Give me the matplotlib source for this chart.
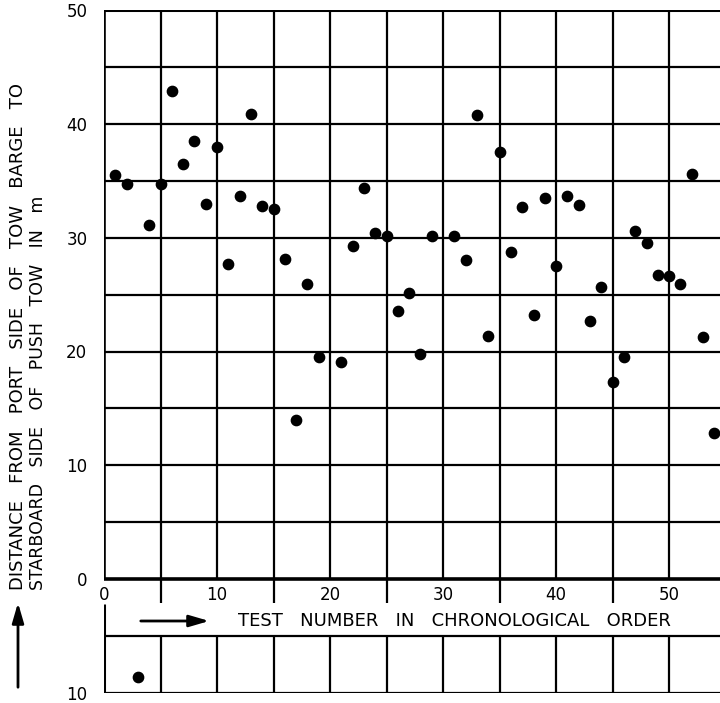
import matplotlib
matplotlib.use("Agg")
import matplotlib.pyplot as plt

# test number and lateral distance (m); test 3 lies on the other side
test_no = [1, 2, 3, 4, 5, 6, 7, 8, 9, 10, 11, 12, 13, 14, 15, 16, 17, 18, 19,
           21, 22, 23, 24, 25, 26, 27, 28, 29, 31, 32, 33, 34, 35, 36, 37, 38,
           39, 40, 41, 42, 43, 44, 45, 46, 47, 48, 49, 50, 51, 52, 53, 54]
distance = [35.5, 34.7, -8.6, 31.1, 34.7, 42.9, 36.5, 38.5, 33.0, 38.0, 27.7,
            33.7, 40.9, 32.8, 32.5, 28.1, 14.0, 25.9, 19.5,
            19.1, 29.3, 34.4, 30.4, 30.15, 23.6, 25.1, 19.8, 30.15, 30.15,
            28.0, 40.8, 21.4, 37.5, 28.7, 32.7, 23.2, 33.5, 27.5, 33.65, 32.9,
            22.65, 25.7, 17.3, 19.5, 30.6, 29.5, 26.7, 26.6, 25.9, 35.6, 21.3,
            12.8]

x_labels = [0, 10, 20, 30, 40, 50]
y_ticks = [-10, 0, 10, 20, 30, 40, 50]
y_labels = ['10', '0', '10', '20', '30', '40', '50']

W, H = 720, 703
fig = plt.figure(figsize=(W / 100, H / 100), dpi=100)
ax = fig.add_axes([104 / W, 10 / H, 1 - 104 / W, (693 - 10) / H])
ax.set_xlim(0, 54.5)
ax.set_ylim(-10, 50)

lw = 1.6
# horizontal grid
for yv in [5, 10, 15, 20, 25, 30, 35, 40, 45, -5, -10]:
    ax.axhline(yv, color='black', lw=lw, zorder=1)
ax.axhline(50, color='black', lw=2.2, zorder=1)
ax.axhline(0, color='black', lw=2.6, zorder=1)
# vertical grid
for xv in range(5, 55, 5):
    ax.vlines(xv, 0, 50, color='black', lw=lw, zorder=1)
    ax.vlines(xv, -10, -5, color='black', lw=lw, zorder=1)
for xv in range(5, 55, 10):
    ax.vlines(xv, -2.1, 0, color='black', lw=lw, zorder=1)
ax.vlines(0, 0, 50, color='black', lw=2.6, zorder=1)
ax.vlines(0, -10, -2.2, color='black', lw=2.2, zorder=1)

for s in ax.spines.values():
    s.set_visible(False)

ax.scatter(test_no, distance, s=55, color='black', zorder=3, clip_on=False)

ax.set_xticks([])
ax.set_yticks(y_ticks)
ax.set_yticklabels(y_labels, fontsize=12)
ax.tick_params(axis='y', length=0, pad=12)
for xv in x_labels:
    ax.annotate(str(xv), (xv, 0), xytext=(0, -5), textcoords='offset points',
                ha='center', va='top', fontsize=12)

# axis titles
ax.annotate('', xy=(212, H - 621), xytext=(138, H - 621), xycoords='figure pixels',
            textcoords='figure pixels',
            arrowprops=dict(arrowstyle='-|>,head_length=1.2,head_width=0.35',
                            color='black', lw=2))
fig.text(238 / W, 1 - 621 / H, 'TEST   NUMBER   IN   CHRONOLOGICAL   ORDER',
         ha='left', va='center', fontsize=13)

fig.text(18 / W, 1 - 590 / H, 'DISTANCE   FROM   PORT   SIDE   OF   TOW   BARGE   TO',
         rotation=90, ha='center', va='bottom', fontsize=13)
fig.text(38 / W, 1 - 590 / H, 'STARBOARD   SIDE   OF   PUSH   TOW   IN   m',
         rotation=90, ha='center', va='bottom', fontsize=12.5)
ax.annotate('', xy=(18, H - 600), xytext=(18, H - 690), xycoords='figure pixels',
            textcoords='figure pixels',
            arrowprops=dict(arrowstyle='-|>,head_length=1.2,head_width=0.35',
                            color='black', lw=2))

fig.savefig('out.png', dpi=100)
